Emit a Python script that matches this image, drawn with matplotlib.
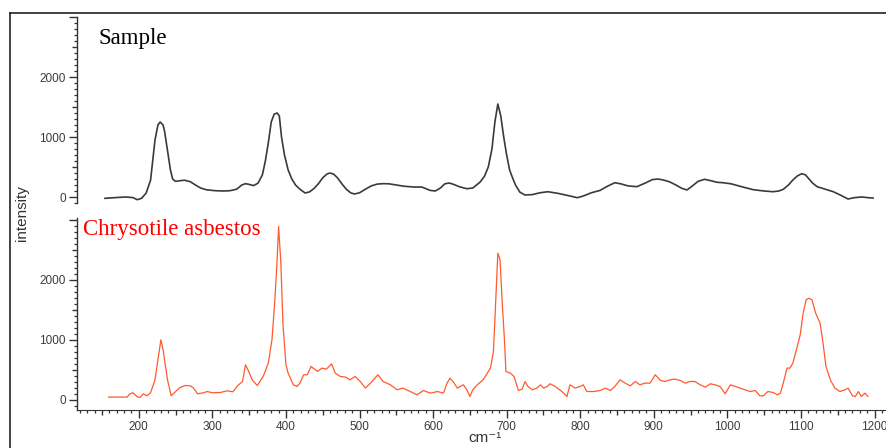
import numpy as np
import matplotlib
matplotlib.use("Agg")
import matplotlib.pyplot as plt
from matplotlib.lines import Line2D
from matplotlib.ticker import FixedLocator, MultipleLocator, FuncFormatter

# Sample spectrum (smooth)
sample_wn = [154, 168, 182, 192, 198, 204, 210, 216, 222, 226, 229, 233, 235, 239, 243,
             246, 250, 255, 262, 270, 277, 284, 292, 304, 315, 324, 333, 340, 345, 350,
             356, 362, 368, 372, 376, 380, 384, 388, 391, 394, 398, 403, 408, 413, 420,
             426, 432, 438, 444, 450, 456, 460, 465, 470, 476, 482, 488, 493, 500, 508,
             516, 524, 532, 540, 550, 560, 573, 585, 596, 603, 610, 616, 622, 628, 636,
             646, 654, 664, 670, 675, 680, 684, 688, 692, 696, 700, 704, 708, 712, 718,
             725, 735, 745, 756, 770, 785, 796, 805, 815, 827, 837, 847, 855, 865, 877,
             888, 898, 906, 914, 922, 930, 938, 945, 952, 960, 969, 978, 986, 994, 1005,
             1020, 1035, 1050, 1062, 1070, 1076, 1083, 1089, 1095, 1101, 1106, 1111, 1116,
             1122, 1133, 1144, 1154, 1164, 1173, 1183, 1190, 1198]
sample_int = [-22, -10, 0, -10, -45, -20, 67, 280, 950, 1200, 1250, 1200, 1100, 780, 450,
              300, 260, 270, 280, 255, 200, 150, 120, 105, 100, 105, 130, 200, 222, 210,
              190, 230, 370, 600, 900, 1250, 1380, 1400, 1350, 1000, 700, 450, 300, 200, 120,
              67, 85, 140, 220, 320, 385, 400, 380, 320, 220, 130, 70, 50, 70, 130,
              185, 215, 222, 220, 200, 180, 167, 165, 110, 100, 150, 220, 233, 210, 170,
              138, 150, 250, 350, 500, 800, 1250, 1550, 1350, 1000, 700, 450, 320, 200, 80,
              33, 40, 70, 88, 60, 20, -12, 20, 70, 110, 180, 238, 220, 185, 172,
              230, 290, 300, 280, 250, 200, 145, 117, 180, 260, 295, 270, 245, 238, 220,
              170, 122, 100, 88, 100, 128, 200, 283, 350, 388, 370, 300, 230,
              172, 130, 88, 30, -33, -10, 0, -10, -17]

# Chrysotile asbestos reference spectrum
chry_wn = [159, 184, 188, 192, 198, 202, 206, 211, 216, 222, 230, 233, 239, 244, 250,
           256, 263, 270, 274, 280, 288, 293, 300, 311, 320, 328, 334, 341, 345, 349,
           354, 361, 369, 376, 381, 385, 388, 390, 393, 396, 400, 403, 410, 415, 419,
           424, 429, 434, 443, 449, 455, 462, 467, 474, 481, 487, 494, 501, 508, 515,
           525, 532, 542, 551, 559, 569, 578, 587, 596, 606, 614, 619, 623, 627, 633,
           637, 641, 646, 650, 654, 660, 668, 678, 682, 684, 687, 688, 691, 694, 697,
           699, 705, 710, 716, 721, 725, 729, 735, 741, 746, 750, 755, 759, 766, 775,
           782, 786, 793, 800, 804, 809, 818, 827, 834, 841, 847, 854, 861, 868, 875,
           881, 888, 895, 902, 909, 915, 922, 929, 936, 943, 949, 956, 963, 970, 977,
           983, 990, 997, 1004, 1011, 1017, 1024, 1031, 1038, 1044, 1049, 1055, 1062,
           1068, 1072, 1076, 1081, 1085, 1089, 1095, 1099, 1103, 1107, 1111, 1115,
           1120, 1126, 1130, 1134, 1140, 1146, 1153, 1160, 1164, 1170, 1174, 1178,
           1182, 1187, 1191]
chry_int = [45, 45, 100, 117, 50, 40, 100, 67, 117, 333, 1000, 833, 333, 67, 138,
            205, 238, 233, 200, 100, 117, 138, 117, 122, 150, 133, 233, 305, 583, 483,
            333, 238, 388, 610, 1000, 1667, 2333, 2888, 2300, 1250, 583, 444, 250, 222, 278,
            417, 417, 556, 472, 528, 511, 600, 444, 389, 378, 333, 389, 305, 195, 278,
            417, 305, 250, 167, 195, 138, 83, 155, 111, 138, 111, 278, 361, 305, 195,
            222, 250, 167, 55, 167, 250, 333, 528, 805, 1333, 2167, 2444, 2333, 1611, 1000,
            472, 444, 389, 155, 178, 305, 222, 167, 195, 250, 195, 222, 267, 222, 138,
            55, 250, 195, 222, 250, 138, 138, 155, 195, 155, 222, 333, 278, 233, 305,
            250, 278, 278, 417, 322, 305, 333, 344, 322, 278, 305, 305, 250, 211, 267,
            250, 222, 100, 250, 222, 195, 167, 138, 155, 67, 67, 138, 122,
            83, 111, 278, 528, 528, 611, 889, 1083, 1444, 1667, 1694, 1667,
            1444, 1278, 944, 556, 333, 195, 138, 167, 195, 67, 55, 138,
            55, 111, 55]

plt.rcParams['font.family'] = ['Liberation Sans', 'DejaVu Sans']

W, H = 886, 448
fig = plt.figure(figsize=(W / 100, H / 100), dpi=100)

left = 77 / W
width = 1 - left
ax1 = fig.add_axes([left, 1 - 203 / H, width, 186 / H])
ax2 = fig.add_axes([left, 1 - 410 / H, width, 192 / H])

ax1.plot(sample_wn, sample_int, color='#3a3a3a', lw=1.2)
ax2.plot(chry_wn, chry_int, color='#ff5a2c', lw=0.9)

xlim = (116, 1215.6)
ax1.set_xlim(xlim)
ax2.set_xlim(xlim)
ax1.set_ylim(-100, 3000)
ax2.set_ylim(-170, 3030)

tick_col = '#333333'
ylab = FuncFormatter(lambda v, p: f"{int(v)}" if v % 1000 == 0 and v < 3000 else "")
for ax in (ax1, ax2):
    for s in ('top', 'right'):
        ax.spines[s].set_visible(False)
    ax.spines['left'].set_color(tick_col)
    ax.spines['left'].set_linewidth(1.0)
    ax.yaxis.set_major_locator(FixedLocator([0, 500, 1000, 1500, 2000, 2500, 3000]))
    ax.yaxis.set_minor_locator(MultipleLocator(100))
    ax.yaxis.set_major_formatter(ylab)
    ax.tick_params(axis='y', which='major', length=6, width=1.0, color=tick_col,
                   labelsize=8.5, labelcolor='#3c3c3c', pad=2)
    ax.tick_params(axis='y', which='minor', length=2.2, width=0.9, color=tick_col)

ax1.spines['bottom'].set_visible(False)
ax1.set_xticks([])

ax2.spines['bottom'].set_color(tick_col)
ax2.xaxis.set_major_locator(MultipleLocator(50))
ax2.xaxis.set_minor_locator(MultipleLocator(10))
ax2.xaxis.set_major_formatter(FuncFormatter(lambda v, p: f"{int(v)}" if v % 100 == 0 else ""))
ax2.tick_params(axis='x', which='major', length=6, width=1.0, color=tick_col,
                labelsize=8.5, labelcolor='#3c3c3c', pad=2)
ax2.tick_params(axis='x', which='minor', length=2.2, width=0.9, color=tick_col)

# shorter ticks at the half steps
fig.canvas.draw()
for ax in (ax1, ax2):
    for t in ax.yaxis.get_major_ticks():
        if t.get_loc() % 1000 != 0:
            t.tick1line.set_markersize(3.8)
for t in ax2.xaxis.get_major_ticks():
    if t.get_loc() % 100 != 0:
        t.tick1line.set_markersize(3.8)

ax1.text(0.026, 0.885, "Sample", transform=ax1.transAxes, va='center', ha='left',
         fontsize=16.5, family='Liberation Serif', color='black')
ax2.text(0.007, 0.942, "Chrysotile asbestos", transform=ax2.transAxes, va='center',
         ha='left', fontsize=16.5, family='Liberation Serif', color='#ff0000')

fig.text(22 / W, 1 - 213 / H, "intensity", rotation=90, va='center', ha='center',
         fontsize=11, color='#333333')
fig.text(485 / W, 1 - 438 / H, "cm\u207b\u00b9", va='center', ha='center',
         fontsize=11, color='#333333')

# outer frame
fx, fy = 10 / W, 1 - 13 / H
fig.add_artist(Line2D([fx, fx], [0, fy], color='#222222', lw=1.2))
fig.add_artist(Line2D([fx, 1], [fy, fy], color='#222222', lw=1.2))

fig.savefig("out.png", dpi=100)
